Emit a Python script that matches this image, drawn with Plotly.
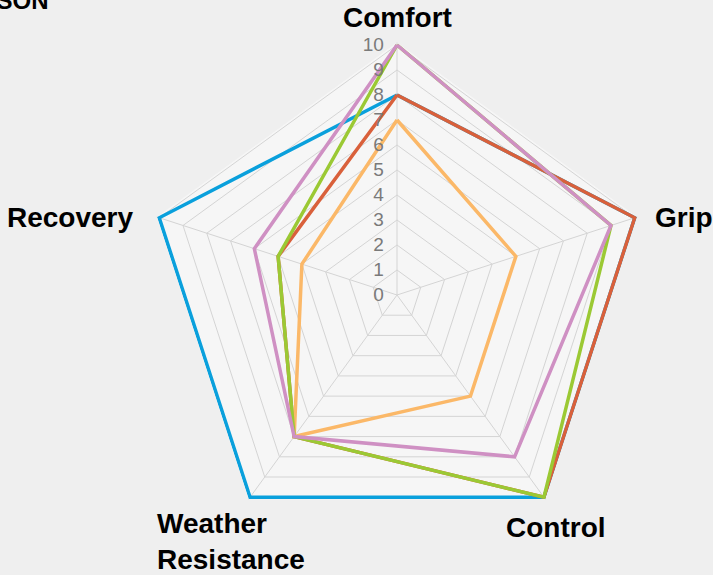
import plotly.graph_objects as go

categories = ["Comfort", "Grip", "Control", "Weather Resistance", "Recovery"]
series_names = ["Product A", "Product B", "Product C", "Product D", "Product E"]
blue_vals = [8, 10, 10, 10, 10]
red_vals = [8, 10, 10, 7, 5]
orange_vals = [7, 5, 5, 7, 4]
green_vals = [10, 9, 10, 7, 5]
purple_vals = [10, 9, 8, 7, 6]
all_vals = [blue_vals, red_vals, orange_vals, green_vals, purple_vals]
colors = ["#0aa0dc", "#d9603b", "#fbb868", "#9bc934", "#cf90c3"]
radial_ticks = list(range(0, 11))

W, H = 713, 575
R_MAX = 10.1
cx, cy, rad = 397, 295, 250 * R_MAX / 10

fig = go.Figure()
for name, vals, col in zip(series_names, all_vals, colors):
    fig.add_trace(go.Scatterpolar(
        r=vals + vals[:1],
        theta=categories + categories[:1],
        mode="lines",
        name=name,
        line=dict(color=col, width=3.5),
        cliponaxis=False,
        showlegend=False,
    ))

label_font = dict(size=28, color="#000000", family="Liberation Sans, Arial, sans-serif", weight="bold")
# category label placements (pixels): x, y, xanchor, yanchor, align
label_places = [
    (397, 17, "center", "middle", "center"),
    (653, 217, "left", "middle", "left"),
    (556, 527, "center", "middle", "center"),
    (155, 541, "left", "middle", "left"),
    (136, 217, "right", "middle", "right"),
]
annotations = []
for cat, (px, py, xa, ya, al) in zip(categories, label_places):
    annotations.append(dict(
        text=cat.replace(" ", "<br>"), xref="paper", yref="paper",
        x=px / W, y=1 - py / H, xanchor=xa, yanchor=ya, align=al,
        showarrow=False, font=label_font,
    ))
annotations.append(dict(
    text="<b>COMPARISON</b>", xref="paper", yref="paper",
    x=51 / W, y=1 - 16 / H, xanchor="right", yanchor="bottom",
    showarrow=False, font=dict(size=24, color="#000000"),
))

fig.update_layout(
    width=W, height=H,
    margin=dict(l=0, r=0, t=0, b=0),
    paper_bgcolor="#efefef",
    font=dict(family="Liberation Sans, Arial, sans-serif"),
    polar=dict(
        bgcolor="#f6f6f6",
        gridshape="linear",
        domain=dict(x=[(cx - rad) / W, (cx + rad) / W],
                    y=[(H - cy - rad) / H, (H - cy + rad) / H]),
        angularaxis=dict(
            direction="clockwise", rotation=90,
            showline=False,
            gridcolor="#d4d4d4", gridwidth=1,
            ticks="", showticklabels=False,
        ),
        radialaxis=dict(
            range=[0, R_MAX], tickvals=radial_ticks, angle=90, tickangle=90,
            showline=False, gridcolor="#d4d4d4", gridwidth=1,
            ticks="outside", ticklen=6, tickcolor="rgba(0,0,0,0)",
            tickfont=dict(size=19, color="#7a7a7a"),
            side="counterclockwise",
        ),
    ),
    annotations=annotations,
)

fig.write_html("out.html", config={"displayModeBar": False},
               post_script="document.body.style.margin='0px';")
